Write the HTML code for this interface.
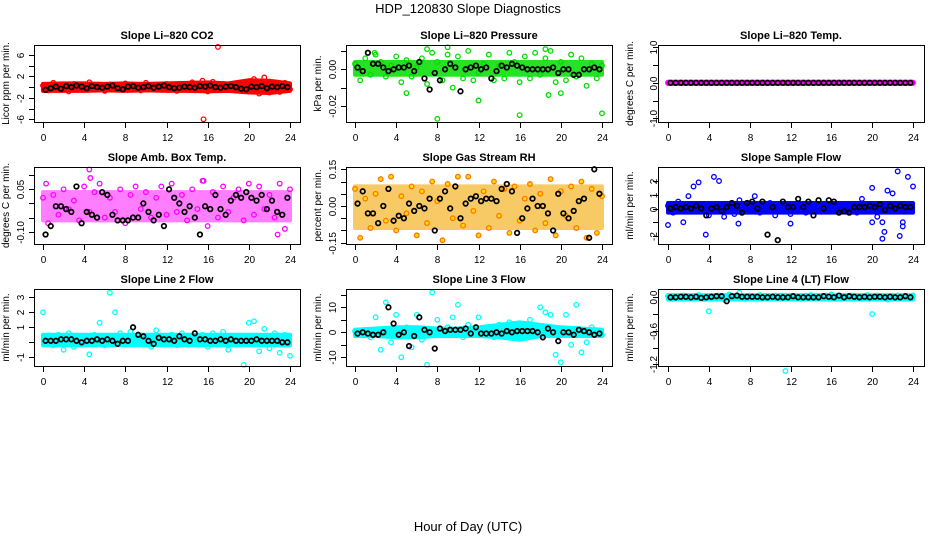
<!DOCTYPE html>
<html><head><meta charset="utf-8"><style>
body{margin:0;background:#fff}
svg{display:block;font-family:"Liberation Sans",Arial,sans-serif}
</style></head><body>
<svg id="c" width="936" height="540" viewBox="0 0 936 540">
<text x="468" y="13" text-anchor="middle" font-size="13">HDP_120830  Slope Diagnostics</text>
<text x="468" y="531" text-anchor="middle" font-size="13">Hour of Day (UTC)</text>
</svg>
<script>
const HOURS=[0,0.5,1,1.5,2,2.5,3,3.5,4,4.5,5,5.5,6,6.5,7,7.5,8,8.5,9,9.5,10,10.5,11,11.5,12,12.5,13,13.5,14,14.5,15,15.5,16,16.5,17,17.5,18,18.5,19,19.5,20,20.5,21,21.5,22,22.5,23,23.5,24];
const BAND_HOURS=[0,2,4,6,8,10,12,14,16,18,20,22,24];
const X_TICKS=[0,4,8,12,16,20,24];

const co2Color=[0.3,-0.6,0.8,-0.4,0.5,-0.8,0.6,0.2,-0.5,0.9,-0.3,0.4,-0.7,0.5,0.1,-0.4,0.7,-0.2,0.3,-0.6,0.8,-0.1,0.4,-0.5,0.6,0.2,-0.7,0.5,-0.3,0.9,-0.4,1.2,-0.8,1.0,-0.2,0.6,-0.5,0.4,0.7,-0.3,0.5,1.5,-1.2,1.8,-1.0,0.6,-0.9,0.8,-0.4];
const co2Black=[0.0,-0.5,-0.2,0.1,-0.3,0.2,0.0,0.3,0.1,-0.2,0.2,0.0,-0.1,0.1,0.3,-0.2,-0.4,0.1,0.2,-0.1,0.0,0.2,-0.1,0.1,0.3,0.0,-0.2,-0.1,0.1,0.0,-0.1,0.2,0.1,0.3,0.0,-0.1,0.1,0.2,0.0,-0.3,-0.4,0.1,0.0,0.2,-0.2,0.1,0.0,0.2,0.0];
const co2BandLo=[-0.7,-0.7,-0.7,-0.6,-0.7,-0.6,-0.7,-0.7,-0.8,-0.7,-1.0,-1.1,-0.7];
const co2BandHi=[0.6,0.7,0.7,0.6,0.7,0.6,0.7,0.8,0.9,0.7,1.3,1.2,0.7];
const co2OutX=[17.0,15.6], co2OutY=[7.5,-6.0];
const co2Ticks=[-6,-4,-2,0,2,4,6], co2Labels=["-6","","-2","","2","","6"];

const presColor=[0.003,-0.006,0.006,-0.003,0.008,0.004,-0.004,0.002,0.007,-0.007,0.005,-0.004,0.001,0.006,-0.008,0.009,0.004,-0.006,0.008,-0.010,0.007,-0.005,0.010,-0.006,-0.002,0.003,0.008,-0.006,0.002,-0.005,0.009,0.004,-0.007,0.007,-0.005,0.009,-0.003,0.006,0.010,-0.007,0.004,-0.006,0.008,-0.004,0.006,-0.009,0.003,-0.005,0.002];
const presBlack=[0,0.001,-0.001,0.009,0.003,0.003,0.001,-0.001,0,0.001,0.001,0.002,-0.001,0.004,-0.005,-0.011,-0.002,-0.006,0.000,0.003,0.001,-0.012,0.0,0.001,0.002,0.0,0.001,-0.005,-0.001,0.002,0.001,0.003,0.002,0.001,0.0,0.0,0.0,0.0,0.0,0.001,-0.002,0.0,0.0,-0.003,-0.003,0.0,0.0,0.001,0.0];
const presBandLo=[-0.003,-0.003,-0.003,-0.003,-0.003,-0.003,-0.003,-0.003,-0.003,-0.003,-0.003,-0.003,-0.003];
const presBandHi=[0.004,0.004,0.004,0.004,0.004,0.004,0.004,0.004,0.004,0.004,0.004,0.004,0.004];
const presOutX=[8,16,24,12,5,18.8,20,9,1.9,7,18.5], presOutY=[-0.027,-0.025,-0.024,-0.017,-0.013,-0.014,-0.013,0.012,0.009,0.011,0.011];
const presTicks=[-0.02,-0.01,0,0.01], presLabels=["-0.02","","0.00",""];

const tempColor=[0,0,0,0,0,0,0,0,0,0,0,0,0,0,0,0,0,0,0,0,0,0,0,0,0,0,0,0,0,0,0,0,0,0,0,0,0,0,0,0,0,0,0,0,0,0,0,0,0];
const tempBlack=[0,0,0,0,0,0,0,0,0,0,0,0,0,0,0,0,0,0,0,0,0,0,0,0,0,0,0,0,0,0,0,0,0,0,0,0,0,0,0,0,0,0,0,0,0,0,0,0,0];
const tempBandLo=[-0.03,-0.03,-0.03,-0.03,-0.03,-0.03,-0.03,-0.03,-0.03,-0.03,-0.03,-0.03,-0.03];
const tempBandHi=[0.03,0.03,0.03,0.03,0.03,0.03,0.03,0.03,0.03,0.03,0.03,0.03,0.03];
const tempOutX=[], tempOutY=[];
const tempTicks=[-1,-0.5,0,0.5,1], tempLabels=["-1.0","","0.0","","1.0"];

const ambColor=[0.02,-0.07,0.03,-0.04,0.05,-0.02,0.01,-0.06,0.06,-0.03,0.04,0.07,-0.05,0.02,-0.03,0.05,-0.07,0.03,0.06,-0.02,0.04,-0.05,0.02,0.06,-0.04,0.07,-0.03,0.03,-0.06,0.05,-0.02,0.08,-0.08,0.04,-0.05,0.06,-0.03,0.02,0.05,-0.06,0.07,-0.04,0.06,-0.02,0.03,-0.05,0.07,-0.09,0.05];
const ambBlack=[-0.07,-0.11,-0.08,-0.01,-0.01,-0.02,-0.03,0.06,-0.07,-0.03,-0.04,-0.05,0.04,0.03,-0.04,-0.06,-0.06,-0.06,-0.05,-0.05,0.0,-0.03,-0.06,-0.04,-0.08,0.05,0.02,0.0,-0.03,-0.01,-0.05,-0.11,-0.01,-0.02,0.03,-0.02,-0.04,0.01,0.03,0.02,0.04,0.02,0.01,0.03,-0.02,0.01,-0.03,-0.04,0.02];
const ambBandLo=[-0.06,-0.06,-0.06,-0.06,-0.06,-0.06,-0.06,-0.06,-0.06,-0.06,-0.06,-0.06,-0.06];
const ambBandHi=[0.04,0.04,0.04,0.04,0.04,0.04,0.04,0.04,0.04,0.04,0.04,0.04,0.04];
const ambOutX=[4.5,15.6,22.8,0.3,4.6], ambOutY=[0.12,0.08,-0.11,0.07,0.09];
const ambTicks=[-0.1,-0.05,0,0.05,0.1], ambLabels=["-0.10","","","0.05",""];

const rhColor=[0.07,-0.13,0.03,-0.09,0.05,0.11,-0.06,0.12,-0.10,0.04,-0.03,0.08,-0.12,0.06,-0.07,0.10,0.02,-0.14,0.09,-0.05,0.12,-0.08,0.12,-0.02,-0.12,0.06,-0.09,0.10,-0.04,0.07,-0.11,0.08,-0.06,0.03,0.09,-0.10,0.05,-0.07,0.11,-0.12,0.06,-0.04,0.08,-0.09,0.10,-0.13,0.07,-0.11,0.04];
const rhBlack=[-0.04,0.01,0.06,-0.03,-0.03,-0.07,0.00,0.07,-0.06,-0.04,-0.05,0.01,-0.02,0.00,-0.01,0.03,-0.10,0.03,0.06,-0.01,0.08,-0.05,0.01,0.03,0.04,0.02,0.03,0.03,0.02,0.07,0.09,0.06,-0.11,-0.05,-0.01,0.03,0.00,0.00,-0.03,-0.10,0.05,-0.03,-0.05,-0.02,0.02,0.03,-0.13,0.15,0.05];
const rhBandLo=[-0.09,-0.09,-0.09,-0.09,-0.09,-0.09,-0.09,-0.09,-0.09,-0.09,-0.09,-0.09,-0.09];
const rhBandHi=[0.08,0.08,0.08,0.08,0.08,0.08,0.08,0.08,0.08,0.08,0.08,0.08,0.08];
const rhOutX=[], rhOutY=[];
const rhTicks=[-0.15,-0.1,-0.05,0,0.05,0.1,0.15], rhLabels=["-0.15","","","0.00","","","0.15"];

const sampColor=[0.2,-0.3,0.5,-0.2,0.9,1.6,1.9,0.3,-0.5,2.3,2.0,-0.6,0.1,-0.4,0.6,0.3,-0.2,0.9,-0.3,0.2,0.4,-0.5,-0.1,0.3,-0.4,0.2,0.1,-0.3,0.2,0.3,-0.2,0.1,0.2,-0.1,0.3,0.1,0.2,-0.3,0.7,0.1,1.5,-0.6,-1.0,1.3,1.1,2.7,-1.3,2.3,1.6];
const sampBlack=[0,0,0.1,0,0.1,0,0.2,0,-0.5,0,0.1,-0.2,0.1,0.4,0.2,-0.3,0.4,0.5,0,0.5,-1.9,0.1,-2.3,0.5,0.1,0.1,0.7,0.1,0.5,-0.5,0.6,0,0.6,0.5,-0.3,-0.2,-0.3,0.1,0.1,0.1,0.2,0.1,0.3,-0.1,0.2,0,0.2,0.1,0.1];
const sampBandLo=[-0.3,-0.3,-0.3,-0.3,-0.3,-0.3,-0.3,-0.3,-0.3,-0.3,-0.3,-0.3,-0.3];
const sampBandHi=[0.4,0.4,0.4,0.4,0.4,0.4,0.4,0.4,0.4,0.4,0.4,0.4,0.4];
const sampOutX=[0,3.7,21,22.7,23.0,21.2,1.5,6.9,12,20], sampOutY=[-1.2,-1.9,-2.2,-2.0,-1.0,-1.7,-1.0,-1.1,-1.1,-1.0];
const sampTicks=[-2,-1,0,1,2], sampLabels=["-2","","0","1","2"];

const l2Color=[2.0,0.3,-0.2,0.5,-0.5,0.6,-0.3,0.2,0.4,-0.8,0.5,1.3,-0.2,3.3,2.0,0.6,0.1,0.7,-0.1,0.4,0.3,-0.3,0.8,0.1,0.3,0.5,-0.2,0.6,0.4,-0.1,0.3,0.5,-0.3,0.6,0.2,0.7,-0.5,0.4,0.2,-1.5,1.3,1.4,-0.6,0.9,-0.4,0.6,-0.7,0.5,-0.9];
const l2Black=[0.1,0.1,0.1,0.1,0.2,0.2,0.2,0.1,0.0,0.1,0.1,0.2,0.1,0.2,0.1,-0.1,0.1,0.1,1.0,0.5,0.4,0.1,-0.1,0.3,0.2,0.2,0.1,0.4,0.2,0.1,0.6,0.2,0.2,0.1,0.1,0.2,0.1,0.2,0.1,0.1,0.1,0.1,0.2,0.1,0.1,0.1,0.1,0.0,0.0];
const l2BandLo=[-0.2,-0.2,-0.2,-0.2,-0.2,-0.2,-0.2,-0.2,-0.2,-0.2,-0.2,-0.2,-0.2];
const l2BandHi=[0.5,0.5,0.5,0.5,0.5,0.5,0.5,0.5,0.5,0.5,0.5,0.5,0.5];
const l2OutX=[], l2OutY=[];
const l2Ticks=[-1,0,1,2,3], l2Labels=["-1","","1","2","3"];

const l3Color=[0.5,-1,1,-2,6,-7,12,-4,7,-10,2,-6,7,-3,-13,16,5,-1,2,6,11,-2,3,-1,6,1,2,-2,3,1,4,-2,3,1,5,2,10,8,7,-9,-12,7,-5,11,-8,-4,2,-1,-1];
const l3Black=[-0.5,-0.5,0,-0.5,-1,-1,0,10,3.5,-1,0,-5.5,-1.5,6,1,0,-6.5,1.5,0.5,1,1,1,1.5,-0.5,2,-0.5,-0.5,-0.5,0,-0.5,0.5,0,0.5,0.5,0.5,0.5,0,-2,1.5,0,-3.5,0,0,-1,1,0.5,0,-1,-0.5];
const l3BandLo=[-1.5,-1.5,-2,-2,-1.5,-1.5,-1.5,-2,-3,-1.5,-1.5,-1.5,-1.5];
const l3BandHi=[1,1.5,2,2,1.5,1.5,2,3,4,3,2,1.5,1];
const l3OutX=[], l3OutY=[];
const l3Ticks=[-10,-5,0,5,10,15], l3Labels=["-10","","0","","10",""];

const l4Color=[0.02,-0.03,0.01,0.03,-0.02,0.02,0.04,-0.03,-0.25,0.02,0.03,-0.04,0.05,0.02,0.08,-0.03,0.03,-0.02,0.04,0.01,-0.02,0.03,0.03,-1.32,0.02,0.01,-0.03,0.03,0.04,-0.02,0.02,0.03,0.05,-0.03,0.02,0.01,0.03,-0.02,-0.03,0.04,-0.3,0.03,0.02,-0.04,0.01,0.03,0.02,-0.03,0.03];
const l4Black=[0,0,0,0.01,0.01,0,0.01,-0.01,0,0.01,0.02,0.02,-0.07,0.02,0.03,0.01,0.01,0.01,0.01,0,0,0.01,0,0,0,0.02,0,0,0,0,0,0.02,0.01,0,0.03,0,0.02,0.01,0,0.01,0,0.01,0.01,0,0.01,0,0,0.02,0];
const l4BandLo=[-0.04,-0.04,-0.04,-0.04,-0.04,-0.04,-0.04,-0.04,-0.04,-0.04,-0.04,-0.04,-0.04];
const l4BandHi=[0.04,0.04,0.04,0.04,0.04,0.04,0.04,0.04,0.04,0.04,0.04,0.04,0.04];
const l4OutX=[], l4OutY=[];
const l4Ticks=[-1.2,-0.9,-0.6,-0.3,0], l4Labels=["-1.2","","-0.6","","0.0"];

const NS="http://www.w3.org/2000/svg";
const svg=document.getElementById('c');
function mk(tag,attrs,parent){const e=document.createElementNS(NS,tag);for(const k in attrs)e.setAttribute(k,attrs[k]);(parent||svg).appendChild(e);return e;}

const COLS=[{l:34,r:300,x0:43,x24:290,lab:20,tit:9},{l:346,r:612,x0:355,x24:602,lab:332,tit:321},{l:658,r:924,x0:668,x24:913,lab:653,tit:633}];
const ROWS=[{t:45,b:122},{t:167,b:244},{t:289,b:366}];

const panels=[
 {name:"co2",title:"Slope Li\u2013820 CO2",ylab:"Licor ppm per min.",col:0,row:0,color:"#ff0000",fill:"none",bandColor:"#ff0000",op:1,c:co2Color,k:co2Black,lo:co2BandLo,hi:co2BandHi,ox:co2OutX,oy:co2OutY,ticks:co2Ticks,labels:co2Labels,v1:6,p1:55,v2:-6,p2:119.3},
 {name:"pressure",title:"Slope Li\u2013820 Pressure",ylab:"kPa per min.",col:1,row:0,color:"#00dd00",fill:"none",bandColor:"#00dd00",op:0.85,c:presColor,k:presBlack,lo:presBandLo,hi:presBandHi,ox:presOutX,oy:presOutY,ticks:presTicks,labels:presLabels,v1:0,p1:69.3,v2:-0.02,p2:106},
 {name:"temp",title:"Slope Li\u2013820 Temp.",ylab:"degrees C per min.",col:2,row:0,color:"#ff00ff",fill:"none",bandColor:"#ff00ff",op:1,c:tempColor,k:tempBlack,lo:tempBandLo,hi:tempBandHi,ox:tempOutX,oy:tempOutY,ticks:tempTicks,labels:tempLabels,v1:1,p1:47.3,v2:-1,p2:118.3},
 {name:"amb-box-temp",title:"Slope Amb. Box Temp.",ylab:"degrees C per min.",col:0,row:1,color:"#ff00ff",fill:"none",bandColor:"#ff00ff",op:0.5,c:ambColor,k:ambBlack,lo:ambBandLo,hi:ambBandHi,ox:ambOutX,oy:ambOutY,ticks:ambTicks,labels:ambLabels,v1:0.05,p1:189.3,v2:-0.1,p2:231.7},
 {name:"gas-rh",title:"Slope Gas Stream RH",ylab:"percent per min.",col:1,row:1,color:"#ff7700",fill:"#ffdd00",bandColor:"#f5a800",op:0.6,c:rhColor,k:rhBlack,lo:rhBandLo,hi:rhBandHi,ox:rhOutX,oy:rhOutY,ticks:rhTicks,labels:rhLabels,v1:0.15,p1:169.3,v2:-0.15,p2:242.7},
 {name:"sample-flow",title:"Slope Sample Flow",ylab:"ml/min per min.",col:2,row:1,color:"#0000ff",fill:"none",bandColor:"#0000ff",op:1,c:sampColor,k:sampBlack,lo:sampBandLo,hi:sampBandHi,ox:sampOutX,oy:sampOutY,ticks:sampTicks,labels:sampLabels,v1:2,p1:181,v2:-2,p2:236},
 {name:"line2-flow",title:"Slope Line 2 Flow",ylab:"ml/min per min.",col:0,row:2,color:"#00ffff",fill:"none",bandColor:"#00ffff",op:1,c:l2Color,k:l2Black,lo:l2BandLo,hi:l2BandHi,ox:l2OutX,oy:l2OutY,ticks:l2Ticks,labels:l2Labels,v1:3,p1:297.3,v2:-1,p2:357.3},
 {name:"line3-flow",title:"Slope Line 3 Flow",ylab:"ml/min per min.",col:1,row:2,color:"#00ffff",fill:"none",bandColor:"#00ffff",op:1,c:l3Color,k:l3Black,lo:l3BandLo,hi:l3BandHi,ox:l3OutX,oy:l3OutY,ticks:l3Ticks,labels:l3Labels,v1:10,p1:307.3,v2:-10,p2:357.3},
 {name:"line4-flow",title:"Slope Line 4 (LT) Flow",ylab:"ml/min per min.",col:2,row:2,color:"#00ffff",fill:"none",bandColor:"#00ffff",op:1,c:l4Color,k:l4Black,lo:l4BandLo,hi:l4BandHi,ox:l4OutX,oy:l4OutY,ticks:l4Ticks,labels:l4Labels,v1:0,p1:297.3,v2:-1.2,p2:364.3}
];

panels.forEach(P=>{
 const C=COLS[P.col],R=ROWS[P.row];
 const xs=h=>C.x0+(C.x24-C.x0)*h/24;
 const ys=v=>P.p1+(P.p2-P.p1)*(v-P.v1)/(P.v2-P.v1);
 const g=mk('g',{});
 
 
 const t=mk('text',{x:(C.l+C.r)/2,y:R.t-6,'text-anchor':'middle','font-size':11,'font-weight':'bold'},g);
 t.textContent=P.title;
 
 
 const yl=mk('text',{transform:`translate(${C.tit},${(R.t+R.b)/2}) rotate(-90)`,'text-anchor':'middle','font-size':10},g);
 yl.textContent=P.ylab;
 
 
 let pts=BAND_HOURS.map((h,i)=>xs(h)+','+ys(P.hi[i]));
 pts=pts.concat(BAND_HOURS.map((h,i)=>xs(h)+','+ys(P.lo[i])).reverse());
 const band=mk('polygon',{points:pts.join(' '),fill:P.bandColor,stroke:P.bandColor,'stroke-width':4,'stroke-linejoin':'round',opacity:P.op},g);
 
 
 const pt=(x,y,col,fill,w,nm)=>{const c=mk('circle',{cx:x,cy:y,r:2.3,fill:fill,stroke:col,'stroke-width':w},g);
  
  };
 HOURS.forEach((h,i)=>pt(xs(h),ys(P.c[i]),P.color,P.fill,1.3,P.name+'-point'));
 P.ox.forEach((h,i)=>pt(xs(h),ys(P.oy[i]),P.color,P.fill,1.3,P.name+'-outlier'));
 HOURS.forEach((h,i)=>{if(i>0)pt(xs(h-0.25),ys(P.k[i]),'#000','none',1.7,P.name+'-mean-point');});
 const box=mk('rect',{x:C.l+0.5,y:R.t+0.5,width:C.r-C.l,height:R.b-R.t,fill:'none',stroke:'#000','stroke-width':1},g);
 
 
 X_TICKS.forEach(h=>{const x=Math.round(xs(h))+0.5;
  mk('line',{x1:x,x2:x,y1:R.b+0.5,y2:R.b+6,stroke:'#000'},g);
  const tx=mk('text',{x:x,y:R.b+19,'text-anchor':'middle','font-size':10},g);
  tx.textContent=h;
  
  });
 P.ticks.forEach((v,i)=>{const y=Math.round(ys(v))+0.5;
  mk('line',{x1:C.l+0.5,x2:C.l-5,y1:y,y2:y,stroke:'#000'},g);
  if(P.labels[i]){const ty=mk('text',{transform:`translate(${C.lab+4},${y}) rotate(-90)`,'text-anchor':'middle','font-size':10},g);
  ty.textContent=P.labels[i];
  
  }});
});
</script>
</body></html>
